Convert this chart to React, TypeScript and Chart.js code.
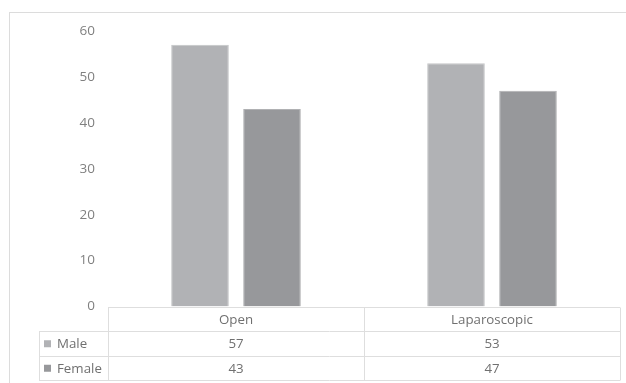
import React, { useEffect, useRef } from "react";
import { Chart, registerables } from "chart.js";

Chart.register(...registerables);

const categories = ["Open", "Laparoscopic"];
const seriesNames = ["Male", "Female"];
const maleValues = [57, 53];
const femaleValues = [43, 47];
const yTicks = [0, 10, 20, 30, 40, 50, 60];

const colors = ["#b1b2b5", "#97989b"];
const FONT = "'Open Sans', 'Noto Sans', sans-serif";

const tablePlugin = {
  id: "dataTable",
  beforeDraw(chart: any) {
    const ctx = chart.ctx;
    ctx.save();
    ctx.strokeStyle = "#dcdcdc";
    ctx.lineWidth = 1;
    ctx.strokeRect(9.5, 12.5, 800, 500);
    ctx.restore();
  },
  afterDraw(chart: any) {
    const ctx = chart.ctx;
    const area = chart.chartArea;
    const xs = chart.scales.x;
    const top = area.bottom;
    const rowH = 24.5;
    const legendLeft = 39;
    const left = area.left;
    const right = area.right;
    const bounds: number[] = [left];
    for (let i = 0; i < categories.length - 1; i++) {
      bounds.push((xs.getPixelForValue(i) + xs.getPixelForValue(i + 1)) / 2);
    }
    bounds.push(right);
    const rows = [maleValues, femaleValues];
    const bottom = top + rowH * (rows.length + 1);

    ctx.save();
    ctx.strokeStyle = "#dedede";
    ctx.lineWidth = 1;
    const r = (v: number) => Math.round(v) + 0.5;
    ctx.beginPath();
    ctx.moveTo(left, r(top));
    ctx.lineTo(right, r(top));
    for (let k = 1; k <= rows.length + 1; k++) {
      const y = r(top + rowH * k);
      ctx.moveTo(legendLeft, y);
      ctx.lineTo(right, y);
    }
    ctx.moveTo(r(legendLeft), r(top + rowH));
    ctx.lineTo(r(legendLeft), r(bottom));
    bounds.forEach((b) => {
      ctx.moveTo(r(b), r(top));
      ctx.lineTo(r(b), r(bottom));
    });
    ctx.stroke();

    ctx.font = "13.3px " + FONT;
    ctx.fillStyle = "#707070";
    ctx.textAlign = "center";
    ctx.textBaseline = "middle";
    categories.forEach((c, i) => {
      ctx.fillText(c, xs.getPixelForValue(i), top + rowH / 2 + 1);
    });
    rows.forEach((vals, k) => {
      const cy = top + rowH * (k + 1.5) + 1;
      vals.forEach((v, i) => {
        ctx.fillText(String(v), xs.getPixelForValue(i), cy);
      });
      ctx.fillStyle = colors[k];
      ctx.fillRect(44, cy - 4, 7, 7);
      ctx.fillStyle = "#707070";
      ctx.textAlign = "left";
      ctx.fillText(seriesNames[k], 57, cy);
      ctx.textAlign = "center";
    });
    ctx.restore();
  },
};

export default function App() {
  const ref = useRef<HTMLCanvasElement>(null);
  useEffect(() => {
    document.body.style.margin = "0";
    const chart = new Chart(ref.current!, {
      type: "bar",
      data: {
        labels: categories,
        datasets: [
          {
            label: seriesNames[0],
            data: maleValues,
            backgroundColor: colors[0],
            borderColor: "#c4c5c7",
            borderWidth: 1,
            categoryPercentage: 0.5625,
            barPercentage: 0.8,
          },
          {
            label: seriesNames[1],
            data: femaleValues,
            backgroundColor: colors[1],
            borderColor: "#b0b1b3",
            borderWidth: 1,
            categoryPercentage: 0.5625,
            barPercentage: 0.8,
          },
        ],
      },
      options: {
        animation: false,
        responsive: false,
        maintainAspectRatio: false,
        layout: { padding: { left: 38, right: 6, top: 31, bottom: 76.5 } },
        plugins: { legend: { display: false }, tooltip: { enabled: false } },
        scales: {
          x: { display: false },
          y: {
            min: 0,
            max: 60,
            afterFit(scale: any) {
              scale.width = 70;
            },
            afterBuildTicks(scale: any) {
              scale.ticks = yTicks.map((v) => ({ value: v }));
            },
            grid: { display: false, drawTicks: false },
            border: { display: false },
            ticks: {
              padding: 13,
              color: "#808080",
              font: { family: FONT, size: 13.5 },
            },
          },
        },
      },
      plugins: [tablePlugin],
    });
    return () => chart.destroy();
  }, []);
  return <canvas ref={ref} width={626} height={383} style={{ display: "block" }} />;
}
